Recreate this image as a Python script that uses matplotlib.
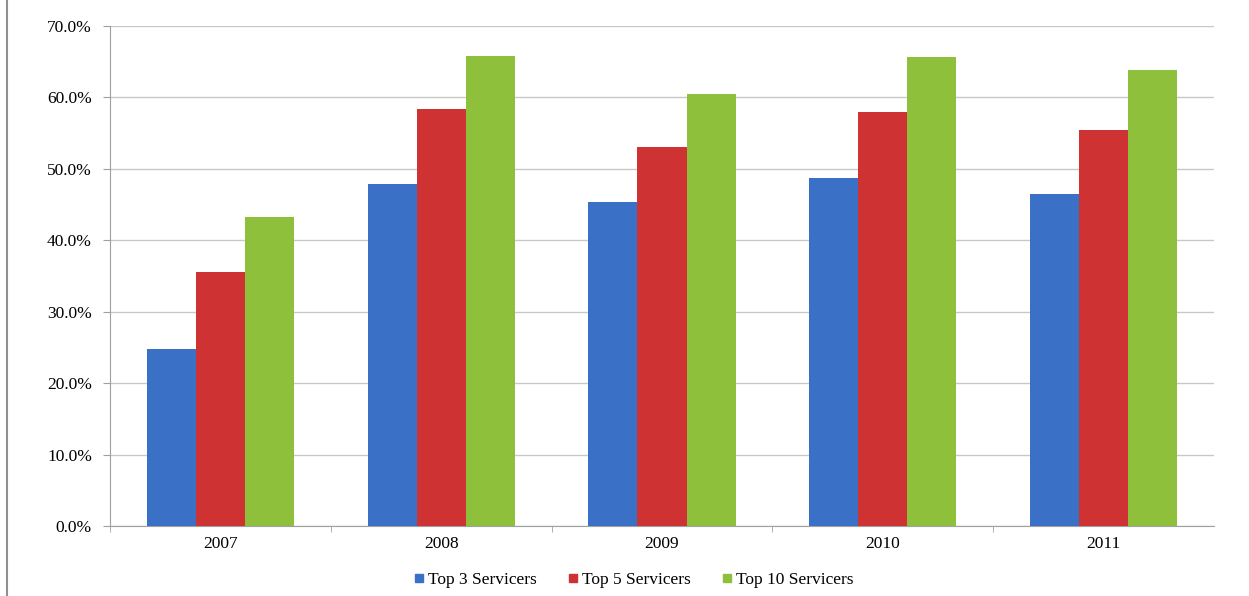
import numpy as np
import matplotlib
matplotlib.use('Agg')
import matplotlib.pyplot as plt
from matplotlib.lines import Line2D
from matplotlib.ticker import FuncFormatter

years = ['2007', '2008', '2009', '2010', '2011']
top3 = [24.8, 47.9, 45.4, 48.7, 46.5]
top5 = [35.6, 58.4, 53.1, 57.9, 55.5]
top10 = [43.2, 65.8, 60.5, 65.6, 63.8]
series_names = ['Top 3 Servicers', 'Top 5 Servicers', 'Top 10 Servicers']
colors = ['#3a70c6', '#cf3232', '#8fc03c']

plt.rcParams['font.family'] = ['Liberation Serif', 'DejaVu Serif']

fig = plt.figure(figsize=(12.49, 5.96), dpi=100)
ax = fig.add_axes([110 / 1249, 70 / 596, 1104 / 1249, 500 / 596])

x = np.arange(len(years))
w = 0.222
for i, (vals, name, c) in enumerate(zip([top3, top5, top10], series_names, colors)):
    ax.bar(x + (i - 1) * w, vals, width=w, color=c, label=name, zorder=3)

ax.set_xlim(-0.5, len(years) - 0.5)
ax.set_ylim(0, 70)
ax.set_yticks(np.arange(0, 71, 10))
ax.yaxis.set_major_formatter(FuncFormatter(lambda v, p: f'{v:.1f}%'))
ax.set_xticks(x)
ax.set_xticklabels(years)
ax.set_xticks(np.arange(-0.5, len(years) - 0.6, 1), minor=True)
ax.tick_params(axis='x', which='major', length=0, pad=7, labelsize=12.5)
ax.tick_params(axis='x', which='minor', length=4, color='#a0a0a0')
ax.tick_params(axis='y', length=5, color='#a0a0a0', pad=8, labelsize=12.5)

ax.grid(axis='y', color='#c8c8c8', linewidth=1, zorder=0)
for s in ['top', 'right']:
    ax.spines[s].set_visible(False)
for s in ['left', 'bottom']:
    ax.spines[s].set_color('#a0a0a0')

handles = [Line2D([], [], marker='s', linestyle='', markersize=5.5, color=c) for c in colors]
leg = fig.legend(handles, series_names, loc='center', bbox_to_anchor=(632 / 1249, 1 - 580 / 596),
                 ncol=3, frameon=False, fontsize=12.5, handletextpad=0.0, columnspacing=1.6,
                 handlelength=1.0)
for t in leg.get_texts():
    t.set_fontstretch('expanded')

# left frame line of the original picture
fig.add_artist(Line2D([7 / 1249, 7 / 1249], [0, 1], color='#909090', linewidth=1.5))

fig.savefig('out.png', dpi=100)
